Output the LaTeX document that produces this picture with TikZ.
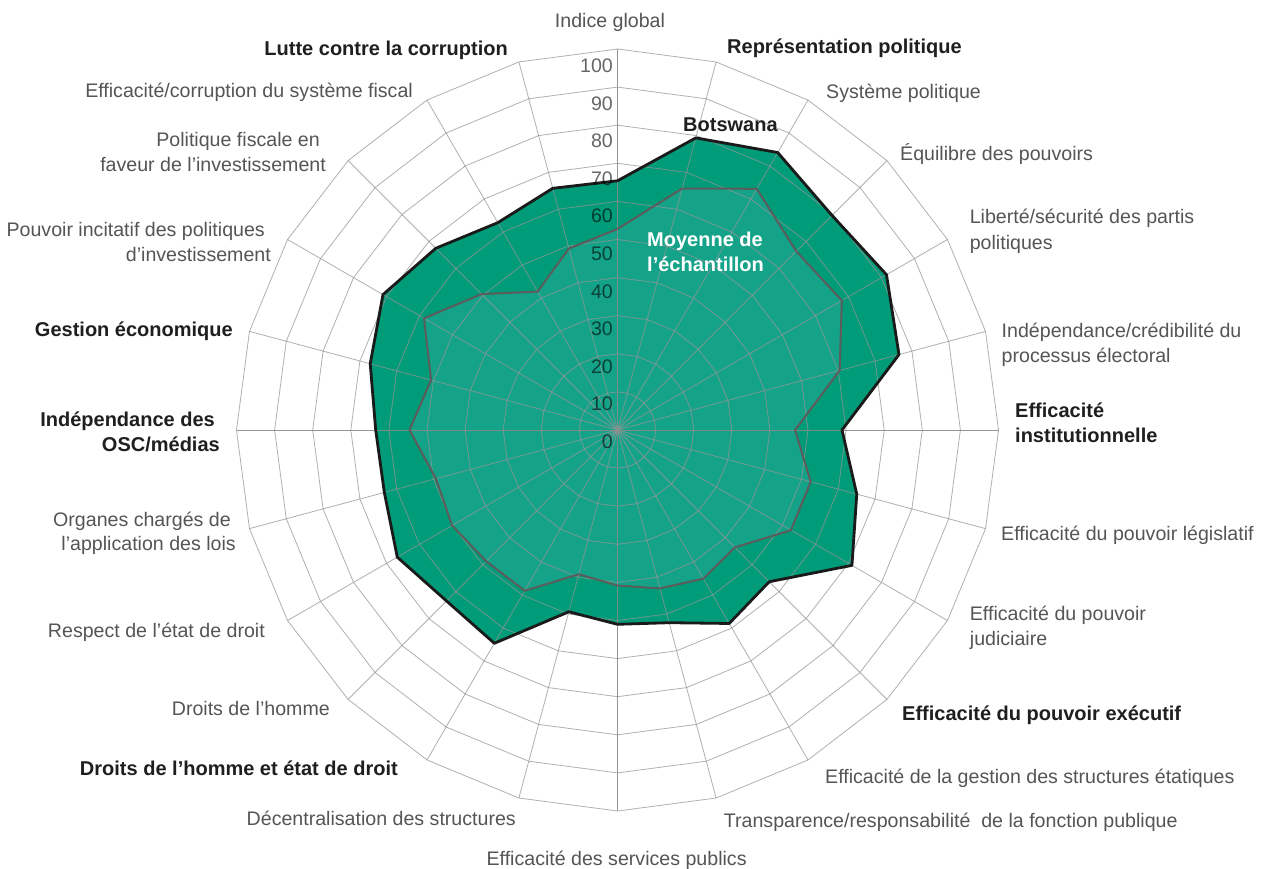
\documentclass[tikz,border=0pt]{standalone}
\usepackage{fontspec}
\setmainfont{Liberation Sans}
\definecolor{botgreen}{HTML}{009B78}
\definecolor{moyteal}{HTML}{14A389}
\definecolor{gridgray}{HTML}{969696}
\definecolor{axisgray}{HTML}{8A8A8A}
\definecolor{labgray}{HTML}{555555}
\definecolor{labdark}{HTML}{1F1F1F}
\definecolor{moyline}{HTML}{5C5C5C}
\definecolor{botline}{HTML}{1A1A1A}
\tikzset{
  lab/.style={font=\fontsize{19.6}{23}\selectfont, text=labgray, inner sep=0pt},
  blab/.style={font=\bfseries\fontsize{20}{24}\selectfont, text=labdark, inner sep=0pt},
  wlab/.style={font=\bfseries\fontsize{20}{24}\selectfont, text=white, inner sep=0pt},
  numlab/.style={font=\fontsize{19.6}{23}\selectfont, text=black, text opacity=0.6, inner sep=0pt, anchor=base east},
  gridl/.style={draw=gridgray, line width=0.8pt, opacity=0.75},
  axisl/.style={draw=axisgray, line width=1pt, opacity=0.9},
  botfill/.style={fill=botgreen},
  moyfill/.style={fill=moyteal},
  botedge/.style={draw=botline, line width=2.8pt, line join=round},
  moyedge/.style={draw=moyline, line width=2pt, line join=round},
}
\begin{document}
\begin{tikzpicture}[x=1pt,y=-1pt]
\useasboundingbox (0,0) rectangle (1261,869);
\fill[white] (0,0) rectangle (1261,869);

\begin{scope}[shift={(617.5,430)}]
  % Botswana area
  \path[botfill] (-90:249.2) -- (-75:302.4) -- (-60:320.4) -- (-45:303.4) -- (-30:310.6) -- (-15:291.4) -- (0:224.5) -- (15:247.7) -- (30:270.7) -- (45:214.6) -- (60:223.4) -- (75:199.5) -- (90:194.3) -- (105:188.2) -- (120:246.3) -- (135:241.8) -- (150:254.3) -- (165:241.4) -- (180:241.8) -- (195:256) -- (210:270.8) -- (225:257) -- (240:239.4) -- (255:250.2) -- cycle;
  % Moyenne area
  \path[moyfill] (-90:201) -- (-75:250) -- (-60:278.5) -- (-45:252.8) -- (-30:259) -- (-15:230) -- (0:177.5) -- (15:200) -- (30:200.3) -- (45:166) -- (60:171.6) -- (75:164) -- (90:155.5) -- (105:149.3) -- (120:185.6) -- (135:185.6) -- (150:191) -- (165:188) -- (180:208) -- (195:193) -- (210:223.4) -- (225:192.2) -- (240:159.8) -- (255:187.8) -- cycle;
  % grid rings
  \foreach \k in {1,...,10} {
    \draw[gridl] (-90:{38.1*\k}) \foreach \a in {-75,-60,...,255} { -- (\a:{38.1*\k}) } -- cycle;
  }
  % spokes
  \foreach \a in {-75,-60,-45,-30,-15,15,30,45,60,75,105,120,135,150,165,195,210,225,240,255} {
    \draw[gridl] (0,0) -- (\a:381);
  }
  \draw[axisl] (-90:381) -- (90:381);
  \draw[axisl] (180:381) -- (0:381);
  % Moyenne outline
  \draw[moyedge] (-90:201) -- (-75:250) -- (-60:278.5) -- (-45:252.8) -- (-30:259) -- (-15:230) -- (0:177.5) -- (15:200) -- (30:200.3) -- (45:166) -- (60:171.6) -- (75:164) -- (90:155.5) -- (105:149.3) -- (120:185.6) -- (135:185.6) -- (150:191) -- (165:188) -- (180:208) -- (195:193) -- (210:223.4) -- (225:192.2) -- (240:159.8) -- (255:187.8) -- cycle;
  % Botswana outline
  \draw[botedge] (-90:249.2) -- (-75:302.4) -- (-60:320.4) -- (-45:303.4) -- (-30:310.6) -- (-15:291.4) -- (0:224.5) -- (15:247.7) -- (30:270.7) -- (45:214.6) -- (60:223.4) -- (75:199.5) -- (90:194.3) -- (105:188.2) -- (120:246.3) -- (135:241.8) -- (150:254.3) -- (165:241.4) -- (180:241.8) -- (195:256) -- (210:270.8) -- (225:257) -- (240:239.4) -- (255:250.2) -- cycle;
  % scale numbers
  \foreach \n [count=\j from 0] in {0,10,20,30,40,50,60,70,80,90,100} {
    \node[numlab] (num\j) at (-4.5,{18-37.5*\j}) {\n};
  }
\end{scope}

% series labels
\node[blab, anchor=base west] (botsw) at (683,131.5) {Botswana};
\node[wlab, anchor=base west] (moy1) at (647,247) {Moyenne de};
\node[wlab, anchor=base west] (moy2) at (647,272) {l’échantillon};

% axis labels
\node[lab, anchor=base] (a0) at (610,28) {Indice global};
\node[blab, anchor=base west] (a1) at (727,53.3) {Représentation politique};
\node[lab, anchor=base west] (a2) at (826,98.3) {Système politique};
\node[lab, anchor=base west] (a3) at (900,160.7) {Équilibre des pouvoirs};
\node[lab, anchor=base west] (a4a) at (969.6,224) {Liberté/sécurité des partis};
\node[lab, anchor=base west] (a4b) at (969.6,249) {politiques};
\node[lab, anchor=base west] (a5a) at (1001.5,337) {Indépendance/crédibilité du};
\node[lab, anchor=base west] (a5b) at (1001.5,362) {processus électoral};
\node[blab, anchor=base west] (a6a) at (1015,417.7) {Efficacité};
\node[blab, anchor=base west] (a6b) at (1015,442.7) {institutionnelle};
\node[lab, anchor=base west] (a7) at (1001,540) {Efficacité du pouvoir législatif};
\node[lab, anchor=base west] (a8a) at (969.7,620) {Efficacité du pouvoir};
\node[lab, anchor=base west] (a8b) at (969.7,645) {judiciaire};
\node[blab, anchor=base west] (a9) at (902,720) {Efficacité du pouvoir exécutif};
\node[lab, anchor=base west] (a10) at (825,783.3) {Efficacité de la gestion des structures étatiques};
\node[lab, anchor=base west] (a11) at (723.7,827.7) {Transparence/responsabilité\ \ de la fonction publique};
\node[lab, anchor=base] (a12) at (616.6,865) {Efficacité des services publics};
\node[lab, anchor=base east] (a13) at (516,825.7) {Décentralisation des structures};
\node[blab, anchor=base east] (a14) at (398,775.7) {Droits de l’homme et état de droit};
\node[lab, anchor=base east] (a15) at (330,715) {Droits de l’homme};
\node[lab, anchor=base east] (a16) at (265,637.7) {Respect de l’état de droit};
\node[lab, anchor=base east] (a17a) at (231,526) {Organes chargés de};
\node[lab, anchor=base east] (a17b) at (236,550.7) {l’application des lois};
\node[blab, anchor=base east] (a18a) at (215,426.7) {Indépendance des};
\node[blab, anchor=base east] (a18b) at (220,451.7) {OSC/médias};
\node[blab, anchor=base east] (a19) at (233,336.7) {Gestion économique};
\node[lab, anchor=base east] (a20a) at (265,236.7) {Pouvoir incitatif des politiques};
\node[lab, anchor=base east] (a20b) at (271,261.7) {d’investissement};
\node[lab, anchor=base east] (a21a) at (320,146.7) {Politique fiscale en};
\node[lab, anchor=base east] (a21b) at (326,171.7) {faveur de l’investissement};
\node[lab, anchor=base east] (a22) at (413,97.7) {Efficacité/corruption du système fiscal};
\node[blab, anchor=base east] (a23) at (508,56) {Lutte contre la corruption};
\end{tikzpicture}
\end{document}
